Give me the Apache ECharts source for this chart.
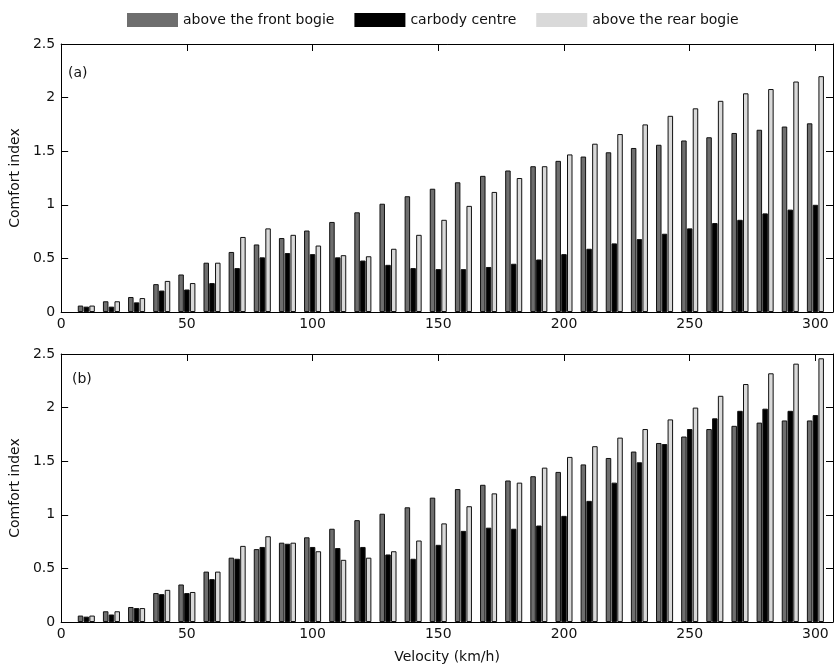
<!DOCTYPE html>
<html>
<head>
<meta charset="utf-8">
<script src="https://cdn.jsdelivr.net/npm/echarts@6/dist/echarts.min.js"></script>
<style>html,body{margin:0;padding:0;background:#fff}#c{width:836px;height:668px}</style>
</head>
<body>
<div id="c"></div>
<script>
var velocity = [10,20,30,40,50,60,70,80,90,100,110,120,130,140,150,160,170,180,190,200,210,220,230,240,250,260,270,280,290,300];
var seriesNames = ['above the front bogie','carbody centre','above the rear bogie'];
var panelLabels = ['(a)','(b)'];
var frontA = [0.06,0.10,0.14,0.26,0.35,0.46,0.56,0.63,0.69,0.76,0.84,0.93,1.01,1.08,1.15,1.21,1.27,1.32,1.36,1.41,1.45,1.49,1.53,1.56,1.60,1.63,1.67,1.70,1.73,1.76];
var carA   = [0.05,0.05,0.09,0.20,0.21,0.27,0.41,0.51,0.55,0.54,0.51,0.48,0.44,0.41,0.40,0.40,0.42,0.45,0.49,0.54,0.59,0.64,0.68,0.73,0.78,0.83,0.86,0.92,0.955,1.00];
var rearA  = [0.06,0.10,0.13,0.29,0.27,0.46,0.70,0.78,0.72,0.62,0.53,0.52,0.59,0.72,0.86,0.99,1.12,1.25,1.36,1.47,1.57,1.66,1.75,1.83,1.90,1.97,2.04,2.08,2.15,2.20];
var frontB = [0.06,0.10,0.14,0.27,0.35,0.47,0.60,0.68,0.74,0.79,0.87,0.95,1.01,1.07,1.16,1.24,1.28,1.32,1.36,1.40,1.47,1.53,1.59,1.67,1.73,1.80,1.83,1.86,1.88,1.88];
var carB   = [0.05,0.07,0.13,0.26,0.27,0.40,0.59,0.70,0.73,0.70,0.69,0.70,0.63,0.59,0.72,0.85,0.88,0.87,0.90,0.99,1.13,1.30,1.49,1.66,1.80,1.90,1.97,1.99,1.97,1.93];
var rearB  = [0.06,0.10,0.13,0.30,0.28,0.47,0.71,0.80,0.74,0.66,0.58,0.60,0.66,0.76,0.92,1.08,1.20,1.30,1.44,1.54,1.64,1.72,1.80,1.89,2.00,2.11,2.22,2.32,2.41,2.46];

var FONT = 'DejaVu Sans';
var colors = ['#6e6e6e', '#000000', '#d9d9d9'];
var panels = [[frontA, carA, rearA], [frontB, carB, rearB]];

function pairs(vals){ return velocity.map(function(v,i){ return [v, vals[i]]; }); }

var grids = [
  {left: 58, right: 1, top: 44, height: 268},
  {left: 58, right: 1, top: 354, height: 268}
];
var xAxes = [], yAxes = [], series = [];
grids.forEach(function(g, gi){
  var lineStyle = {color: '#000', width: 1};
  xAxes.push({
    type: 'value', gridIndex: gi, min: 0, max: 307, interval: 50, position: 'bottom',
    axisLine: {show: true, onZero: false, lineStyle: lineStyle},
    axisTick: {show: true, inside: true, length: 7, lineStyle: lineStyle},
    splitLine: {show: false},
    axisLabel: {fontFamily: FONT, fontSize: 14, color: '#111', margin: 5,
      formatter: function(v){ return v % 50 === 0 ? String(v) : ''; }},
    name: gi === 1 ? 'Velocity (km/h)' : '', nameLocation: 'middle', nameGap: 28,
    nameTextStyle: {fontFamily: FONT, fontSize: 14, color: '#111'}
  });
  xAxes.push({
    type: 'value', gridIndex: gi, min: 0, max: 307, interval: 50, position: 'top',
    axisLine: {show: true, onZero: false, lineStyle: lineStyle},
    axisTick: {show: true, inside: true, length: 7, lineStyle: lineStyle},
    splitLine: {show: false}, axisLabel: {show: false}
  });
  yAxes.push({
    type: 'value', gridIndex: gi, min: 0, max: 2.5, interval: 0.5, position: 'left',
    axisLine: {show: true, onZero: false, lineStyle: lineStyle},
    axisTick: {show: true, inside: true, length: 7, lineStyle: lineStyle},
    splitLine: {show: false},
    axisLabel: {fontFamily: FONT, fontSize: 14, color: '#111', margin: 6},
    name: 'Comfort index', nameLocation: 'middle', nameGap: 29,
    nameTextStyle: {fontFamily: FONT, fontSize: 14, color: '#111'}
  });
  yAxes.push({
    type: 'value', gridIndex: gi, min: 0, max: 2.5, interval: 0.5, position: 'right',
    axisLine: {show: true, onZero: false, lineStyle: lineStyle},
    axisTick: {show: true, inside: true, length: 7, lineStyle: lineStyle},
    splitLine: {show: false}, axisLabel: {show: false}
  });
  panels[gi].forEach(function(vals, si){
    series.push({
      type: 'bar', name: seriesNames[si], xAxisIndex: gi * 2, yAxisIndex: gi * 2,
      data: pairs(vals), barWidth: 5.5, barGap: '5%',
      itemStyle: {color: colors[si], borderColor: '#111', borderWidth: 1}
    });
  });
});

var chart = echarts.init(document.getElementById('c'), null, {renderer: 'canvas'});
chart.setOption({
  animation: false,
  backgroundColor: '#fff',
  legend: {
    data: seriesNames, left: 122, top: 8, itemWidth: 51, itemHeight: 14, itemGap: 20,
    icon: 'rect',
    itemStyle: {borderWidth: 0},
    textStyle: {fontFamily: FONT, fontSize: 14, color: '#111'}
  },
  grid: grids,
  xAxis: xAxes,
  yAxis: yAxes,
  series: series,
  graphic: [
    {type: 'text', left: 68, top: 66, style: {text: panelLabels[0], font: '14px "DejaVu Sans"', fill: '#111'}},
    {type: 'text', left: 72, top: 372, style: {text: panelLabels[1], font: '14px "DejaVu Sans"', fill: '#111'}}
  ]
});
</script>
</body>
</html>
